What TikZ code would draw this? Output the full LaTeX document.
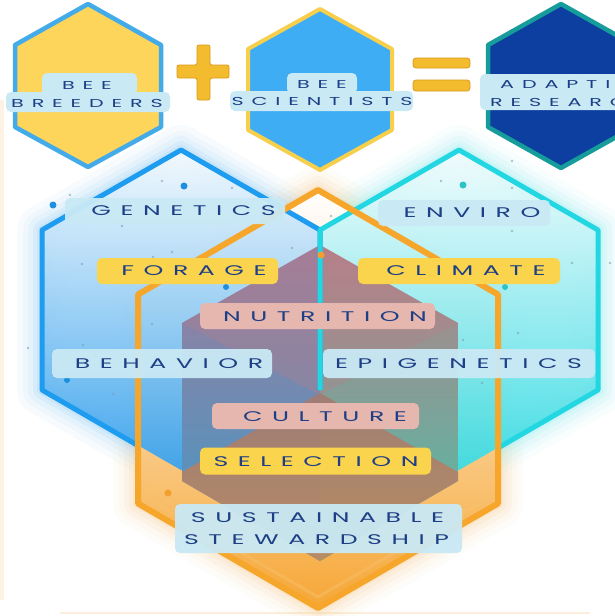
\documentclass[tikz,border=0pt]{standalone}
\usepackage{fontspec}
\usepackage{graphicx}
\newfontfamily\labfont[LetterSpace=38]{Poppins}

% palette
\definecolor{navy}{HTML}{1E3F85}
\definecolor{lblue}{HTML}{C9E9F5}
\definecolor{lyel}{HTML}{FAD44C}
\definecolor{lpink}{HTML}{E6B7AF}
\definecolor{hexblue}{HTML}{1E9CF0}
\definecolor{hexcyan}{HTML}{22D6E2}
\definecolor{hexorange}{HTML}{F6A62B}
\definecolor{glowblue}{HTML}{8CCBF5}
\definecolor{glowcyan}{HTML}{8DEDF0}
\definecolor{gloworange}{HTML}{F9CF95}
\definecolor{lbtop}{HTML}{F4FAFD}
\definecolor{lbmid}{HTML}{D3ECFA}
\definecolor{lbbot}{HTML}{3AA3EE}
\definecolor{rctop}{HTML}{F3FCFD}
\definecolor{rcmid}{HTML}{D2F4F6}
\definecolor{rcbot}{HTML}{3BDCE4}
\definecolor{ormid}{HTML}{FBE8D2}
\definecolor{orbot}{HTML}{F6A737}
\definecolor{mauve}{HTML}{B87F88}
\definecolor{mauvel}{HTML}{A07C9C}
\definecolor{cbluemid}{HTML}{4F88C3}
\definecolor{cblue}{HTML}{3E9AC8}
\definecolor{ctealmid}{HTML}{55AFA6}
\definecolor{cteal}{HTML}{48C2A8}
\definecolor{browntop}{HTML}{A27B72}
\definecolor{brownbot}{HTML}{C28A5C}
\definecolor{topyellow}{HTML}{FDD55A}
\definecolor{topblueborder}{HTML}{43ABEA}
\definecolor{skyblue}{HTML}{3EADF4}
\definecolor{yborder}{HTML}{F7CF4C}
\definecolor{deepblue}{HTML}{0C3F9F}
\definecolor{tealborder}{HTML}{179C9C}
\definecolor{signyel}{HTML}{F3BB2E}
\definecolor{signedge}{HTML}{DA9B1C}
\definecolor{dotblue}{HTML}{1E8FE0}
\definecolor{dotteal}{HTML}{2CC4C4}
\definecolor{dotorange}{HTML}{F2A030}
\definecolor{speck}{HTML}{7B9BB5}

% hexagon outlines (pixel-like units, y pointing down)
\newcommand\hexL{(181,150) -- (320,230) -- (320,390) -- (181,470) -- (42,390) -- (42,230) -- cycle}
\newcommand\hexR{(459,150) -- (598,230) -- (598,390) -- (459,470) -- (320,390) -- (320,230) -- cycle}
\newcommand\hexO{(318,190) -- (498,294.5) -- (498,503.5) -- (318,608) -- (138,503.5) -- (138,294.5) -- cycle}
\newcommand\hexC{(320,245) -- (458,323) -- (458,481) -- (320,561) -- (182,481) -- (182,323) -- cycle}

% soft halo along a path
\newcommand\glowline[2]{%
  \foreach \gw/\go in {50/0.06,38/0.08,28/0.10,18/0.14,10/0.20}{%
    \draw[line width=\gw pt,draw=#1,opacity=\go] #2;}}

% extended lettering
\newcommand\wide[1]{\scalebox{1.8}[1]{#1}}

\tikzset{
  boxlab/.style={rectangle, rounded corners=5pt, inner sep=0pt},
  midtext/.style={inner sep=0pt, text=navy, font={\labfont\fontsize{14pt}{18pt}\selectfont}},
  toptext/.style={inner sep=0pt, text=navy, font={\labfont\fontsize{11.5pt}{14pt}\selectfont}},
  speckdot/.style={fill=speck, opacity=0.6},
}

\begin{document}
\begin{tikzpicture}[x=1pt,y=-1pt,line join=round]
\useasboundingbox (0,0) rectangle (615,616);
\clip (0,0) rectangle (615,616);
\fill[white] (0,0) rectangle (615,616);
\fill[gloworange, opacity=0.25] (0,100) rectangle (4,600);
\draw[gloworange, opacity=0.35, line width=2pt] (60,613) -- (590,613);

% halos round the three large hexagons
\glowline{gloworange}{\hexO}
\glowline{glowblue}{\hexL}
\glowline{glowcyan}{\hexR}

% fills
\shade[top color=white, middle color=ormid, bottom color=orbot] \hexO;
\shade[top color=lbtop, middle color=lbmid, bottom color=lbbot, opacity=0.95] \hexL;
\shade[top color=rctop, middle color=rcmid, bottom color=rcbot, opacity=0.95] \hexR;

% central overlap hexagon
\begin{scope}
  \clip \hexC;
  \shade[top color=mauvel, middle color=cbluemid, bottom color=cblue] (182,245) rectangle (320,561);
  \shade[top color=mauve, middle color=ctealmid, bottom color=cteal] (320,245) rectangle (458,561);
  \fill[mauve, opacity=0.3] (320,245) -- (182,323) -- (320,395) -- (458,323) -- cycle;
  \shade[top color=browntop, bottom color=brownbot, opacity=0.92]
    (182,472) -- (320,393) -- (458,472) -- (458,561) -- (182,561) -- cycle;
\end{scope}

% outlines
\draw[hexblue, line width=5pt] (137,445) -- (42,390) -- (42,230) -- (181,150) -- (320,230) -- (320,390);
\draw[hexcyan, line width=5pt] (320,390) -- (320,230) -- (459,150) -- (598,230) -- (598,390) -- (498,448);
\draw[hexorange!70, opacity=0.45, line width=3pt] (147,482) -- (147,498) -- (318,597) -- (489,498) -- (489,482);
\draw[hexorange, line width=6pt] \hexO;

% scattered dots
\fill[dotblue] (184,186) circle (3.5);
\fill[dotblue] (53,205) circle (3.5);
\fill[dotblue] (67,380) circle (3);
\fill[dotblue] (226,287) circle (3);
\fill[dotteal] (463,185) circle (3.5);
\fill[dotteal] (505,287) circle (3);
\fill[dotorange] (321,255) circle (3.5);
\fill[dotorange] (168,493) circle (3.5);
\foreach \p in {(162,181),(70,195),(122,226),(82,264),(172,252),(153,257),(152,324),
  (83,345),(28,348),(113,394),(512,161),(441,181),(512,231),(572,263),(610,263),
  (463,340),(518,333),(482,383),(232,188),(512,188),(292,248),(331,216)}
  \fill[speckdot] \p circle (1.3);

% top row: three hexagons with + and =
\draw[topblueborder, fill=topyellow, line width=4.5pt] (88,4) -- (161,45) -- (161,127) -- (88,167) -- (15,127) -- (15,45) -- cycle;
\draw[yborder, fill=skyblue, line width=4pt] (320,9) -- (392,49) -- (392,130) -- (320,170) -- (248,130) -- (248,49) -- cycle;
\draw[tealborder, fill=deepblue, line width=4.5pt] (561,4) -- (634,45) -- (634,127) -- (561,168) -- (488,127) -- (488,45) -- cycle;

\draw[signedge, fill=signyel, line width=0.8pt, rounded corners=2pt]
  (197,45) -- (210,45) -- (210,65) -- (229,65) -- (229,78) -- (210,78) -- (210,100) --
  (197,100) -- (197,78) -- (177,78) -- (177,65) -- (197,65) -- cycle;
\draw[signedge, fill=signyel, line width=0.8pt, rounded corners=3pt] (413,58) rectangle (470,68);
\draw[signedge, fill=signyel, line width=0.8pt, rounded corners=3pt] (413,80) rectangle (470,91);

% top labels
\node[boxlab, fill=lblue, minimum width=95pt, minimum height=22pt] (breedtab) at (89.5,84) {};
\node[boxlab, fill=lblue, minimum width=164pt, minimum height=20pt] (breedrow) at (88,102) {};
\node[toptext] (bee1) at (87,85) {\wide{BEE}};
\node[toptext] (breeders) at (87,103) {\wide{BREEDERS}};

\node[boxlab, fill=lblue, minimum width=70pt, minimum height=21pt] (scitab) at (322,83.5) {};
\node[boxlab, fill=lblue, minimum width=183pt, minimum height=20pt] (scirow) at (321.5,101) {};
\node[toptext] (bee2) at (322,84) {\wide{BEE}};
\node[toptext] (scientists) at (322,101.5) {\wide{SCIENTISTS}};

\node[boxlab, fill=lblue, minimum width=160pt, minimum height=36pt] (adaptbox) at (560,92) {};
\node[toptext, anchor=west] (adaptive) at (500,84.5) {\wide{ADAPTIVE}};
\node[toptext, anchor=west] (research) at (490,102.5) {\wide{RESEARCH}};

% central labels
\node[boxlab, fill=lblue, opacity=0.95, minimum width=220pt, minimum height=26pt] (genbox) at (175,211) {};
\node[midtext] (genetics) at (183.5,211) {\wide{GENETICS}};
\node[boxlab, fill=lblue, opacity=0.95, minimum width=172pt, minimum height=26pt] (envbox) at (464,213) {};
\node[midtext] (enviro) at (472,213) {\wide{ENVIRO}};
\node[boxlab, fill=lyel, minimum width=181pt, minimum height=26pt] (forbox) at (187.5,271) {};
\node[midtext] (forage) at (194,271) {\wide{FORAGE}};
\node[boxlab, fill=lyel, minimum width=202pt, minimum height=26pt] (climbox) at (459,271) {};
\node[midtext] (climate) at (466,271) {\wide{CLIMATE}};
\node[boxlab, fill=lpink, minimum width=235pt, minimum height=26pt] (nutbox) at (317.5,316) {};
\node[midtext] (nutrition) at (325,317) {\wide{NUTRITION}};
\node[boxlab, fill=lblue, opacity=0.95, minimum width=220pt, minimum height=29pt] (behbox) at (162,363.5) {};
\node[midtext] (behavior) at (169,364) {\wide{BEHAVIOR}};
\node[boxlab, fill=lblue, opacity=0.95, minimum width=272pt, minimum height=29pt] (epibox) at (459,363.5) {};
\node[midtext] (epigenetics) at (458.5,364) {\wide{EPIGENETICS}};
\node[boxlab, fill=lpink, minimum width=207pt, minimum height=26pt] (cultbox) at (315.5,416) {};
\node[midtext] (culture) at (325,416.5) {\wide{CULTURE}};
\node[boxlab, fill=lyel, minimum width=231pt, minimum height=27pt] (selbox) at (315.5,461) {};
\node[midtext] (selection) at (316,461.5) {\wide{SELECTION}};
\node[boxlab, fill=lblue, opacity=0.95, minimum width=287pt, minimum height=49pt] (susbox) at (318.5,528.5) {};
\node[midtext] (sustainable) at (317.5,517.5) {\wide{SUSTAINABLE}};
\node[midtext] (stewardship) at (316.5,539.5) {\wide{STEWARDSHIP}};
\end{tikzpicture}
\end{document}
